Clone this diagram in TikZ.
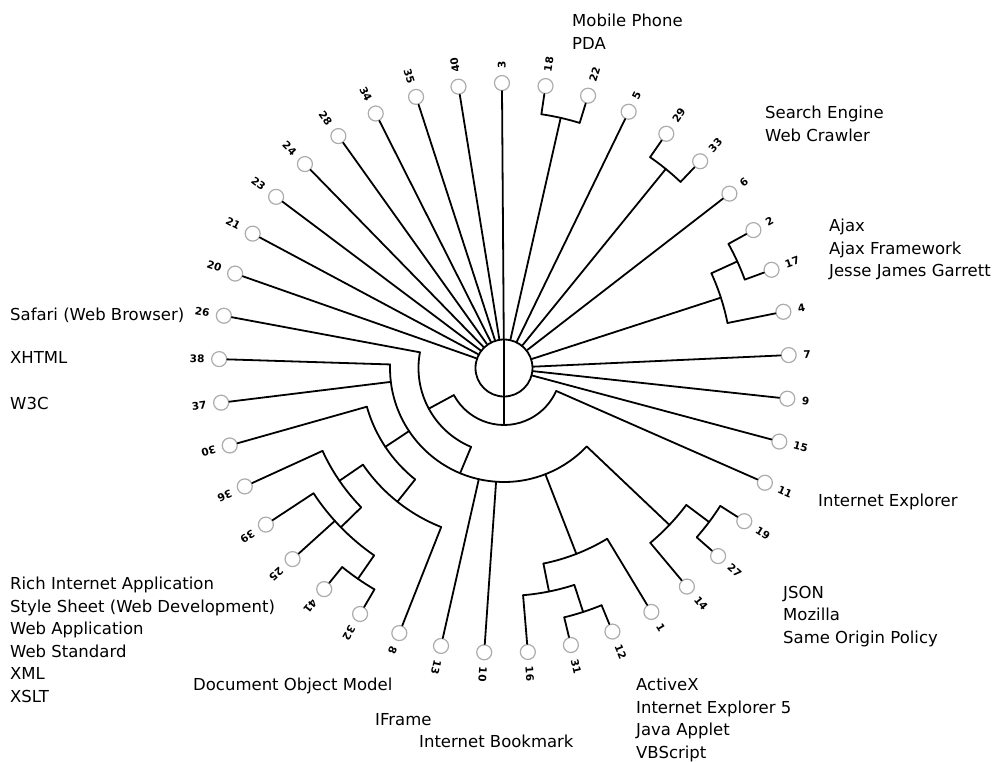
\documentclass[tikz,border=0pt]{standalone}
\usepackage{fontspec}
\setmainfont{DejaVu Sans}
\usetikzlibrary{calc}

\begin{document}
\begin{tikzpicture}[
	leaf/.style={circle, draw=gray!65, line width=1.2pt, fill=white, minimum size=15pt, inner sep=0pt},
	branch/.style={line width=1.8pt, line cap=round, line join=round},
	num/.style={font=\fontsize{10.5}{10.5}\selectfont\bfseries, inner sep=0.5pt},
	group/.style={font=\fontsize{16.5}{22.5}\selectfont, align=left, anchor=north west, inner sep=0pt}
	]
	\useasboundingbox (-504pt,-393pt) rectangle (495pt,368pt);

	% --- CENTRO ---
	\node[circle, draw, line width=1.8pt, minimum size=57pt, inner sep=0pt] (root) at (0,0) {};
	\draw[branch] (90:28.5pt) -- (270:57pt);

	% --- FOGLIE ---
	% 41 foglie, passo 360/41 gradi, raggio 285
	\foreach \n/\a in {7/2.60, 4/11.38, 17/20.16, 2/28.94, 6/37.72, 33/46.50, 29/55.28, 5/64.06,
		22/72.84, 18/81.62, 3/90.41, 40/99.19, 35/107.97, 34/116.75, 28/125.53, 24/134.31,
		23/143.09, 21/151.87, 20/160.65, 26/169.43, 38/178.21, 37/186.99, 30/195.77, 36/204.55,
		39/213.33, 25/222.11, 41/230.89, 32/239.67, 8/248.45, 13/257.23, 10/266.02, 16/274.80,
		31/283.58, 12/292.36, 1/301.14, 14/309.92, 27/318.70, 19/327.48, 11/336.26, 15/345.04, 9/353.82}
		\node[leaf] (l\n) at (\a:285pt) {};

	% numeri: verso l'esterno
	\foreach \n/\a in {7/2.60, 4/11.38, 17/20.16, 2/28.94, 6/37.72, 33/46.50, 29/55.28, 5/64.06,
		22/72.84, 18/81.62, 3/90.41, 40/99.19, 30/195.77, 36/204.55, 39/213.33, 25/222.11,
		41/230.89, 32/239.67, 8/248.45, 13/257.23, 10/266.02, 16/274.80, 31/283.58, 12/292.36,
		1/301.14, 14/309.92, 27/318.70, 19/327.48, 11/336.26, 15/345.04, 9/353.82}
		\node[num, anchor=west, rotate=\a] (t\n) at (\a:299pt) {\n};
	% numeri: girati
	\foreach \n/\a in {35/107.97, 34/116.75, 28/125.53, 24/134.31, 23/143.09, 21/151.87,
		20/160.65, 26/169.43, 38/178.21, 37/186.99}
		\node[num, anchor=east, rotate=\a-180] (t\n) at (\a:299pt) {\n};

	% --- RAMI ---
	% foglie attaccate al cerchio centrale
	\foreach \n in {15, 9, 7, 6, 5, 3, 40, 35, 34, 28, 24, 23, 21, 20}
		\draw[branch] (root) -- (l\n);
	% foglie attaccate ad un arco (raggio del livello)
	\foreach \n/\r in {18/256.5, 22/256.5, 29/256.5, 33/256.5, 2/256.5, 17/256.5, 41/256.5,
		32/256.5, 31/256.5, 12/256.5, 27/256.5, 19/256.5, 4/228, 39/228, 25/228, 16/228, 14/228,
		36/199.5, 1/199.5, 8/171, 30/142.5, 38/114, 37/114, 13/114, 10/114, 26/85.5, 11/57}
		\draw[branch] ($(root.center)!\r pt!(l\n)$) -- (l\n);

	% archi dei gruppi
	\foreach \ai/\af/\rad in {72.84/81.62/256.5, 46.50/55.28/256.5, 20.16/28.94/256.5,
		230.89/239.67/256.5, 283.58/292.36/256.5, 318.70/327.48/256.5,
		11.38/24.55/228, 213.33/235.28/228, 274.80/287.97/228, 309.92/323.09/228,
		204.55/224.31/199.5, 281.39/301.14/199.5, 214.43/248.45/171, 195.77/231.44/142.5,
		178.21/316.51/114, 169.43/247.36/85.5, 208.4/336.26/57}
		\draw[branch] (\ai:\rad pt) arc[start angle=\ai, end angle=\af, radius=\rad pt];

	% collegamenti radiali tra i livelli
	\foreach \a/\ri/\ro in {77.23/28.5/256.5, 50.89/28.5/256.5, 17.97/28.5/228,
		24.55/228/256.5, 235.28/228/256.5, 287.97/228/256.5, 323.09/228/256.5,
		224.31/199.5/228, 281.39/199.5/228, 316.51/114/228, 214.43/171/199.5,
		291.27/114/199.5, 231.44/142.5/171, 213.6/114/142.5, 247.36/85.5/114, 208.4/57/85.5}
		\draw[branch] (\a:\ri pt) -- (\a:\ro pt);

	% --- ETICHETTE DEI GRUPPI ---
	\node[group] (gmob) at (68pt,354pt) {Mobile Phone\\PDA};
	\node[group] (gsearch) at (261pt,262pt) {Search Engine\\Web Crawler};
	\node[group] (gajax) at (325pt,149pt) {Ajax\\Ajax Framework\\Jesse James Garrett};
	\node[group] (gie) at (314pt,-126pt) {Internet Explorer};
	\node[group] (gjson) at (279pt,-218pt) {JSON\\Mozilla\\Same Origin Policy};
	\node[group] (gactx) at (132pt,-310pt) {ActiveX\\Internet Explorer 5\\Java Applet\\VBScript};
	\node[group] (gbook) at (-85pt,-367pt) {Internet Bookmark};
	\node[group] (gifr) at (-129pt,-345pt) {IFrame};
	\node[group] (gdom) at (-311pt,-310pt) {Document Object Model};
	\node[group] (gria) at (-494pt,-209pt) {Rich Internet Application\\Style Sheet (Web Development)\\Web Application\\Web Standard\\XML\\XSLT};
	\node[group] (gw3c) at (-494pt,-29pt) {W3C};
	\node[group] (gxht) at (-494pt,17pt) {XHTML};
	\node[group] (gsaf) at (-494pt,60pt) {Safari (Web Browser)};

\end{tikzpicture}
\end{document}
